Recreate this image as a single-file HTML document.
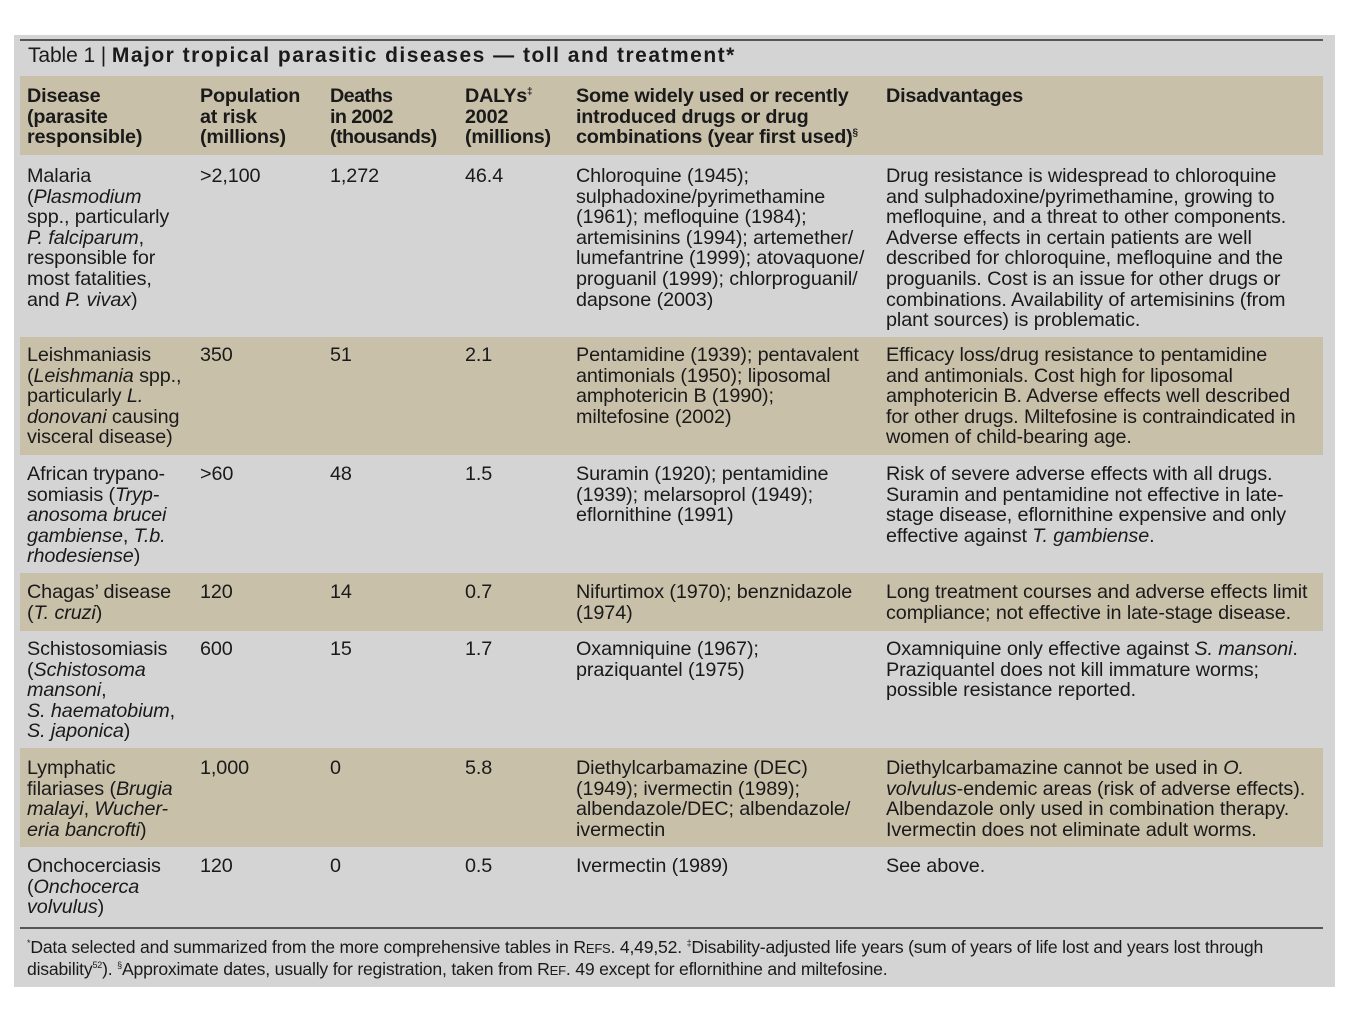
<!DOCTYPE html>
<html><head><meta charset="utf-8"><style>
body{margin:0;width:1350px;height:1013px;background:#fff;position:relative;overflow:hidden;font-family:"Liberation Sans",Arial,sans-serif;color:#1a1a1a}
.panel{position:absolute;left:14px;top:35px;width:1321px;height:952px;background:#d4d4d4}
.band{position:absolute;left:20px;width:1303px;background:#c9c0aa}
.t{position:absolute;font-size:19.8px;line-height:20.6px;white-space:nowrap;letter-spacing:-0.1px}
.h{font-weight:bold;letter-spacing:-0.2px}
i{font-style:italic}
sup{line-height:0;vertical-align:super}
</style></head><body>
<div class="panel"></div>
<div style="position:absolute;left:20px;top:39px;width:1303px;height:2px;background:#555"></div>
<div class="t" style="left:28px;top:45px;font-size:21px;line-height:22px">Table 1 | <b style="letter-spacing:1.5px">Major tropical parasitic diseases — toll and treatment*</b></div>
<div class="band" style="top:76px;height:79px"></div>
<div class="band" style="top:337px;height:118px"></div>
<div class="band" style="top:573px;height:58px"></div>
<div class="band" style="top:748px;height:99px"></div>
<div style="position:absolute;left:20px;top:927px;width:1303px;height:2px;background:#555"></div>

<div class="t h" style="left:27px;top:86px">Disease<br>(parasite<br>responsible)</div>
<div class="t h" style="left:200px;top:86px">Population<br>at risk<br>(millions)</div>
<div class="t h" style="left:330px;top:86px;letter-spacing:-0.6px">Deaths<br>in 2002<br>(thousands)</div>
<div class="t h" style="left:465px;top:86px">DALYs<sup style="font-size:10px">‡</sup><br>2002<br>(millions)</div>
<div class="t h" style="left:576px;top:86px">Some widely used or recently<br>introduced drugs or drug<br>combinations (year first used)<sup style="font-size:10px">§</sup></div>
<div class="t h" style="left:886px;top:86px">Disadvantages</div>

<div class="t" style="left:27px;top:166px">Malaria<br>(<i>Plasmodium</i><br>spp., particularly<br><i>P. falciparum</i>,<br>responsible for<br>most fatalities,<br>and <i>P. vivax</i>)</div>
<div class="t" style="left:200px;top:166px">&gt;2,100</div>
<div class="t" style="left:330px;top:166px">1,272</div>
<div class="t" style="left:465px;top:166px">46.4</div>
<div class="t" style="left:576px;top:166px">Chloroquine (1945);<br>sulphadoxine/pyrimethamine<br>(1961); mefloquine (1984);<br>artemisinins (1994); artemether/<br>lumefantrine (1999); atovaquone/<br>proguanil (1999); chlorproguanil/<br>dapsone (2003)</div>
<div class="t" style="left:886px;top:166px">Drug resistance is widespread to chloroquine<br>and sulphadoxine/pyrimethamine, growing to<br>mefloquine, and a threat to other components.<br>Adverse effects in certain patients are well<br>described for chloroquine, mefloquine and the<br>proguanils. Cost is an issue for other drugs or<br>combinations. Availability of artemisinins (from<br>plant sources) is problematic.</div>

<div class="t" style="left:27px;top:345px">Leishmaniasis<br>(<i>Leishmania</i> spp.,<br>particularly <i>L.</i><br><i>donovani</i> causing<br>visceral disease)</div>
<div class="t" style="left:200px;top:345px">350</div>
<div class="t" style="left:330px;top:345px">51</div>
<div class="t" style="left:465px;top:345px">2.1</div>
<div class="t" style="left:576px;top:345px">Pentamidine (1939); pentavalent<br>antimonials (1950); liposomal<br>amphotericin B (1990);<br>miltefosine (2002)</div>
<div class="t" style="left:886px;top:345px">Efficacy loss/drug resistance to pentamidine<br>and antimonials. Cost high for liposomal<br>amphotericin B. Adverse effects well described<br>for other drugs. Miltefosine is contraindicated in<br>women of child-bearing age.</div>

<div class="t" style="left:27px;top:464px">African trypano-<br>somiasis (<i>Tryp-</i><br><i>anosoma brucei</i><br><i>gambiense</i>, <i>T.b.</i><br><i>rhodesiense</i>)</div>
<div class="t" style="left:200px;top:464px">&gt;60</div>
<div class="t" style="left:330px;top:464px">48</div>
<div class="t" style="left:465px;top:464px">1.5</div>
<div class="t" style="left:576px;top:464px">Suramin (1920); pentamidine<br>(1939); melarsoprol (1949);<br>eflornithine (1991)</div>
<div class="t" style="left:886px;top:464px">Risk of severe adverse effects with all drugs.<br>Suramin and pentamidine not effective in late-<br>stage disease, eflornithine expensive and only<br>effective against <i>T. gambiense</i>.</div>

<div class="t" style="left:27px;top:582px">Chagas’ disease<br>(<i>T. cruzi</i>)</div>
<div class="t" style="left:200px;top:582px">120</div>
<div class="t" style="left:330px;top:582px">14</div>
<div class="t" style="left:465px;top:582px">0.7</div>
<div class="t" style="left:576px;top:582px">Nifurtimox (1970); benznidazole<br>(1974)</div>
<div class="t" style="left:886px;top:582px">Long treatment courses and adverse effects limit<br>compliance; not effective in late-stage disease.</div>

<div class="t" style="left:27px;top:639px">Schistosomiasis<br>(<i>Schistosoma</i><br><i>mansoni</i>,<br><i>S. haematobium</i>,<br><i>S. japonica</i>)</div>
<div class="t" style="left:200px;top:639px">600</div>
<div class="t" style="left:330px;top:639px">15</div>
<div class="t" style="left:465px;top:639px">1.7</div>
<div class="t" style="left:576px;top:639px">Oxamniquine (1967);<br>praziquantel (1975)</div>
<div class="t" style="left:886px;top:639px">Oxamniquine only effective against <i>S. mansoni</i>.<br>Praziquantel does not kill immature worms;<br>possible resistance reported.</div>

<div class="t" style="left:27px;top:758px">Lymphatic<br>filariases (<i>Brugia</i><br><i>malayi</i>, <i>Wucher-</i><br><i>eria bancrofti</i>)</div>
<div class="t" style="left:200px;top:758px">1,000</div>
<div class="t" style="left:330px;top:758px">0</div>
<div class="t" style="left:465px;top:758px">5.8</div>
<div class="t" style="left:576px;top:758px">Diethylcarbamazine (DEC)<br>(1949); ivermectin (1989);<br>albendazole/DEC; albendazole/<br>ivermectin</div>
<div class="t" style="left:886px;top:758px">Diethylcarbamazine cannot be used in <i>O.</i><br><i>volvulus</i>-endemic areas (risk of adverse effects).<br>Albendazole only used in combination therapy.<br>Ivermectin does not eliminate adult worms.</div>

<div class="t" style="left:27px;top:856px">Onchocerciasis<br>(<i>Onchocerca</i><br><i>volvulus</i>)</div>
<div class="t" style="left:200px;top:856px">120</div>
<div class="t" style="left:330px;top:856px">0</div>
<div class="t" style="left:465px;top:856px">0.5</div>
<div class="t" style="left:576px;top:856px">Ivermectin (1989)</div>
<div class="t" style="left:886px;top:856px">See above.</div>

<div class="t" style="left:27px;top:937px;font-size:17.6px;line-height:21px;letter-spacing:-0.2px"><sup style="font-size:9px">*</sup>Data selected and summarized from the more comprehensive tables in R<span style="font-size:13px">EFS</span>. 4,49,52. <sup style="font-size:9px">‡</sup>Disability-adjusted life years (sum of years of life lost and years lost through<br>disability<sup style="font-size:9px">52</sup>). <sup style="font-size:9px">§</sup>Approximate dates, usually for registration, taken from R<span style="font-size:13px">EF</span>. 49 except for eflornithine and miltefosine.</div>
</body></html>
